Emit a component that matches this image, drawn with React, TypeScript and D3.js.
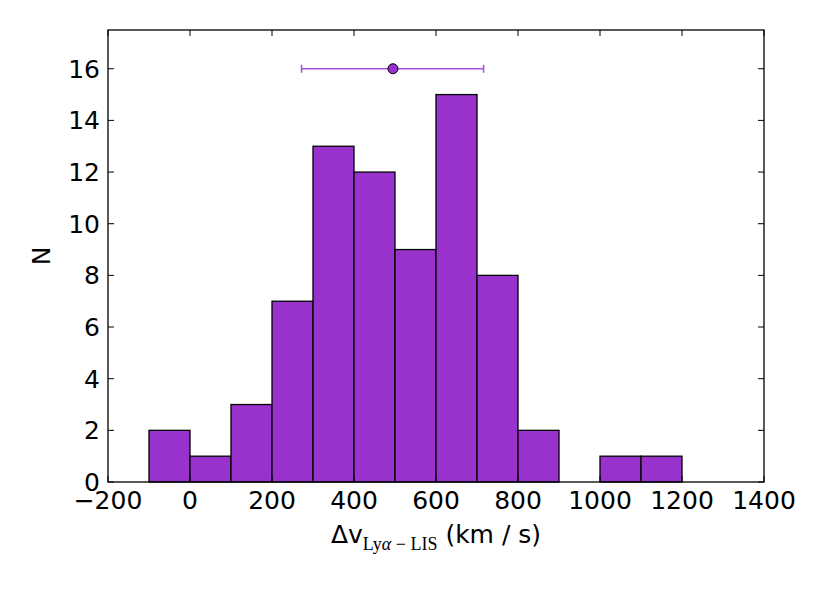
import * as d3 from "d3";

// bin edges (km/s) and counts
const binEdges = [-100, 0, 100, 200, 300, 400, 500, 600, 700, 800, 900, 1000, 1100, 1200, 1300, 1400];
const counts = [2, 1, 3, 7, 13, 12, 9, 15, 8, 2, 0, 1, 1, 0, 0];

// mean and spread shown as an error bar at the top
const meanVel = 495;
const errLow = 272;
const errHigh = 716;
const errY = 16;

const xTicks = [-200, 0, 200, 400, 600, 800, 1000, 1200, 1400];
const yTicks = [0, 2, 4, 6, 8, 10, 12, 14, 16];

const W = 830;
const H = 593;
const M = { left: 108, right: 66, top: 30, bottom: 111 };
const FONT = "'DejaVu Sans', 'Bitstream Vera Sans', sans-serif";
const SERIF = "'Liberation Serif', 'DejaVu Serif', serif";
const PURPLE = "#9932cc";

export default function App() {
  const pw = W - M.left - M.right;
  const ph = H - M.top - M.bottom;
  const x = d3.scaleLinear().domain([-200, 1400]).range([0, pw]);
  const y = d3.scaleLinear().domain([0, 17.5]).range([ph, 0]);
  const tick = 6;

  return (
    <svg width={W} height={H} style={{ position: "absolute", left: 0, top: 0, fontFamily: FONT }}>
      <rect width={W} height={H} fill="white" />
      <g transform={`translate(${M.left},${M.top})`}>
        {counts.map((c, i) =>
          c > 0 ? (
            <rect
              key={i}
              x={x(binEdges[i])}
              y={y(c)}
              width={x(binEdges[i + 1]) - x(binEdges[i])}
              height={y(0) - y(c)}
              fill={PURPLE}
              stroke="black"
              strokeWidth={1.3}
            />
          ) : null
        )}

        {/* error bar */}
        <line x1={x(errLow)} x2={x(errHigh)} y1={y(errY)} y2={y(errY)} stroke="#a64fdb" strokeWidth={1.5} />
        {[errLow, errHigh].map((v) => (
          <line key={v} x1={x(v)} x2={x(v)} y1={y(errY) - 4} y2={y(errY) + 4} stroke="#a64fdb" strokeWidth={1.5} />
        ))}
        <circle cx={x(meanVel)} cy={y(errY)} r={5} fill={PURPLE} stroke="black" strokeWidth={1} />

        {/* frame */}
        <rect x={0} y={0} width={pw} height={ph} fill="none" stroke="black" strokeWidth={1.3} />

        {xTicks.map((t) => (
          <g key={t}>
            <line x1={x(t)} x2={x(t)} y1={ph} y2={ph - tick} stroke="black" />
            <line x1={x(t)} x2={x(t)} y1={0} y2={tick} stroke="black" />
            <text x={x(t)} y={ph + 27} textAnchor="middle" fontSize={25}>
              {t < 0 ? `\u2212${-t}` : t}
            </text>
          </g>
        ))}
        {yTicks.map((t) => (
          <g key={t}>
            <line x1={0} x2={tick} y1={y(t)} y2={y(t)} stroke="black" />
            <line x1={pw} x2={pw - tick} y1={y(t)} y2={y(t)} stroke="black" />
            <text x={-8} y={y(t) + 9} textAnchor="end" fontSize={25}>
              {t}
            </text>
          </g>
        ))}

        <text
          transform={`translate(${-58},${ph / 2}) rotate(-90)`}
          textAnchor="middle"
          fontSize={25}
        >
          N
        </text>
        <text x={pw / 2} y={ph + 61} textAnchor="middle" fontSize={25}>
          <tspan>Δv</tspan>
          <tspan style={{ fontFamily: SERIF }} fontSize={18} dy={7}>
            Ly<tspan fontStyle="italic">α</tspan> − LIS
          </tspan>
          <tspan dy={-7}> (km / s)</tspan>
        </text>
      </g>
    </svg>
  );
}
